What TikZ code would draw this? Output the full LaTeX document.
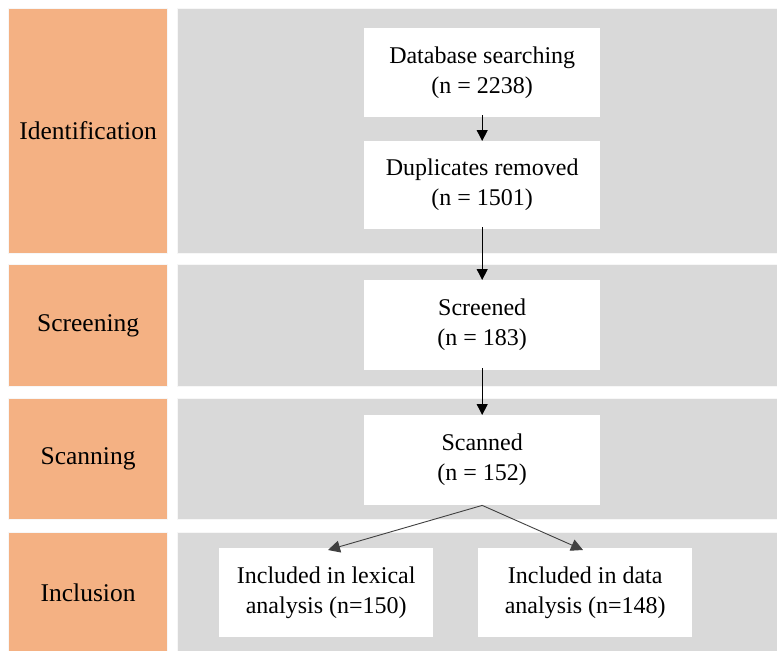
\documentclass[tikz,border=0pt]{standalone}
\usepackage{fontspec}
\setmainfont{Liberation Serif}
\usetikzlibrary{arrows.meta}
\definecolor{stageorange}{HTML}{F4B183}
\definecolor{bandgray}{HTML}{D9D9D9}
\definecolor{rimcol}{HTML}{F7F7F7}
\begin{document}
\begin{tikzpicture}[x=1pt,y=-1pt,
  stage/.style={fill=stageorange,draw=rimcol,line width=1.2pt,inner sep=0pt,anchor=north west,
     font=\fontsize{25.5}{30}\selectfont},
  band/.style={fill=bandgray,draw=rimcol,line width=1.2pt,inner sep=0pt,anchor=north west},
  stepbox/.style={fill=white,draw=none,inner sep=0pt,anchor=north west,align=center,
     font=\fontsize{24}{30}\selectfont},
  flow/.style={-{Triangle[length=11pt,width=11pt]},line width=0.9pt,black},
  split/.style={-{Triangle[length=12pt,width=12pt]},line width=0.9pt,black!75}]
\useasboundingbox[fill=white] (0,0) rectangle (777,651);
% stage labels
\node[stage,minimum width=159pt,minimum height=245pt] (s1) at (8,8) {Identification};
\node[stage,minimum width=159pt,minimum height=122pt] (s2) at (8,264) {Screening};
\node[stage,minimum width=159pt,minimum height=121pt] (s3) at (8,398) {Scanning};
\node[stage,minimum width=159pt,minimum height=121pt] (s4) at (8,532) {Inclusion};
% gray bands
\node[band,minimum width=602pt,minimum height=245pt] (g1) at (177,8) {};
\node[band,minimum width=602pt,minimum height=122pt] (g2) at (177,264) {};
\node[band,minimum width=602pt,minimum height=121pt] (g3) at (177,398) {};
\node[band,minimum width=602pt,minimum height=121pt] (g4) at (177,532) {};
% boxes
\node[stepbox,minimum width=236pt,minimum height=89pt] (db) at (364,28) {Database searching\\(n = 2238)};
\node[stepbox,minimum width=236pt,minimum height=88pt] (dup) at (364,141) {Duplicates removed\\(n = 1501)};
\node[stepbox,minimum width=236pt,minimum height=90pt] (scr) at (364,280) {Screened\\(n = 183)};
\node[stepbox,minimum width=236pt,minimum height=90pt] (scn) at (364,415) {Scanned\\(n = 152)};
\node[stepbox,minimum width=214pt,minimum height=89pt] (lex) at (219,548) {Included in lexical\\analysis (n=150)};
\node[stepbox,minimum width=214pt,minimum height=89pt] (dat) at (478,548) {Included in data\\analysis (n=148)};
% connectors
\draw[flow] ([yshift=2pt]db.south) -- (dup.north);
\draw[flow] ([yshift=2pt]dup.south) -- (scr.north);
\draw[flow] ([yshift=2pt]scr.south) -- (scn.north);
\coordinate (lexin) at (328,550);
\coordinate (datin) at (583,550);
\draw[split] (scn.south) -- (lexin);
\draw[split] (scn.south) -- (datin);
\end{tikzpicture}
\end{document}
